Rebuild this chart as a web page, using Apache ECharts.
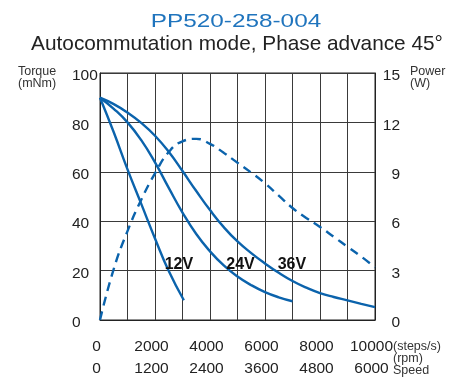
<!DOCTYPE html>
<html>
<head>
<meta charset="utf-8">
<script src="https://cdn.jsdelivr.net/npm/echarts@6/dist/echarts.min.js"></script>
<style>
  html, body { margin: 0; padding: 0; background: #fff; }
  #box { width: 467px; height: 380px; }
</style>
</head>
<body>
<div id="box"></div>
<script>
// 数据 (speed in steps/s, torque mNm, power W)
var speed12 = [0, 500, 1000, 1500, 2000, 2500, 3050];
var torque12 = [90, 76, 61, 47, 33, 19.8, 8];

var speed24 = [0, 500, 1000, 1500, 2000, 2500, 3000, 3500, 4000, 4500, 5000, 5500, 6000, 6500, 7000];
var torque24 = [90, 85.5, 80, 72.8, 63.8, 53.5, 43.5, 34.8, 27.8, 22.1, 17.6, 14.1, 11.3, 9.2, 7.6];

var speed36 = [0, 500, 1000, 1500, 2000, 2500, 3000, 3500, 4000, 4500, 5000, 5500, 6000, 6500, 7000, 7500, 8000, 8500, 9000, 9500, 10000];
var torque36 = [90, 87.4, 84, 79.8, 74.6, 68.1, 60.3, 52.2, 44.5, 37.6, 31.8, 27.1, 22.9, 19.1, 15.8, 13.1, 10.9, 9.3, 7.95, 6.55, 5.2];

var speedP = [0, 500, 1000, 1500, 2000, 2500, 3000, 3500, 4000, 4500, 5000, 5500, 6000, 6500, 7000, 7500, 8000, 8500, 9000, 9500, 10000];
var powerP = [0, 3.1, 5.4, 7.3, 8.9, 10.2, 10.85, 11.0, 10.7, 10.15, 9.55, 8.95, 8.3, 7.55, 6.8, 6.2, 5.65, 5.05, 4.45, 3.85, 3.2];

// 刻度标签
var stepTicks = ['0', '2000', '4000', '6000', '8000', '10000'];
var rpmTicks = ['0', '1200', '2400', '3600', '4800', '6000'];

// 曲线标签位置
var labelNames = ['12V', '24V', '36V'];
var labelPos = [[2870, 22.3], [5110, 22.3], [6980, 22.3]];

function pairs(xs, ys) {
	var out = [];
	for (var i = 0; i < xs.length; i++) {
		out.push([xs[i], ys[i]]);
	}
	return out;
}

var blue = '#0b63ac';
var sans = '"Liberation Sans", Arial, sans-serif';
var myChart = echarts.init(document.getElementById('box'));

function curve(name, xs, ys, idx) {
	return {
		name: name,
		type: 'line',
		smooth: 0.5,
		showSymbol: false,
		silent: true,
		data: pairs(xs, ys),
		lineStyle: { color: blue, width: 2.4 },
		markPoint: {
			symbol: 'circle',
			symbolSize: 0,
			data: [{
				coord: labelPos[idx],
				label: {
					show: true,
					formatter: labelNames[idx],
					color: '#111',
					fontSize: 16,
					fontWeight: 'bold',
					fontFamily: sans
				}
			}]
		}
	};
}

var option = {
	animation: false,
	grid: {
		left: 100, right: 92, top: 73, bottom: 56,
		show: true, borderColor: '#222', borderWidth: 1
	},
	graphic: [
		{
			type: 'text', x: 236, y: 22, scaleX: 1.28,
			style: {
				text: 'PP520-258-004', fill: '#1f74bd',
				font: '19px ' + sans,
				textAlign: 'center', textVerticalAlign: 'middle'
			}
		},
		{
			type: 'text', x: 237, y: 44,
			style: {
				text: 'Autocommutation mode, Phase advance 45°', fill: '#222',
				font: '20.8px ' + sans,
				textAlign: 'center', textVerticalAlign: 'middle'
			}
		},
		{
			type: 'text', x: 18, y: 65,
			style: {
				text: 'Torque\n(mNm)', fill: '#333', lineHeight: 12.5,
				font: '12.5px ' + sans
			}
		},
		{
			type: 'text', x: 410, y: 65,
			style: {
				text: 'Power\n(W)', fill: '#333', lineHeight: 12.5,
				font: '12.5px ' + sans
			}
		},
		{
			type: 'text', x: 393, y: 341,
			style: {
				text: '(steps/s)\n(rpm)\nSpeed', fill: '#333', lineHeight: 12,
				font: '12.5px ' + sans
			}
		}
	],
	xAxis: {
		type: 'value',
		min: 0, max: 10000, interval: 1000,
		axisLine: { show: true, lineStyle: { color: '#222', width: 1 } },
		axisTick: { show: false },
		splitLine: { show: true, lineStyle: { color: '#3a3a3a', width: 1 } },
		axisLabel: {
			margin: 16,
			color: '#222',
			fontSize: 15.5,
			fontFamily: sans,
			lineHeight: 22,
			padding: [0, 7, 0, 0],
			formatter: function (v) {
				var i = Math.round(v / 2000);
				if (v % 2000 !== 0) return '';
				return stepTicks[i] + '\n' + rpmTicks[i];
			}
		}
	},
	yAxis: [
		{
			type: 'value',
			min: 0, max: 100, interval: 20,
			axisLine: { show: true, lineStyle: { color: '#222', width: 1 } },
			axisTick: { show: false },
			splitLine: { show: true, lineStyle: { color: '#3a3a3a', width: 1 } },
			axisLabel: { align: 'left', verticalAlign: 'top', lineHeight: 6, margin: 28, color: '#222', fontSize: 15.5, fontFamily: sans }
		},
		{
			type: 'value',
			min: 0, max: 15, interval: 3,
			position: 'right',
			axisLine: { show: true, lineStyle: { color: '#222', width: 1 } },
			axisTick: { show: false },
			splitLine: { show: false },
			axisLabel: { align: 'right', verticalAlign: 'top', lineHeight: 6, margin: 25, color: '#222', fontSize: 15.5, fontFamily: sans }
		}
	],
	series: [
		curve('12V', speed12, torque12, 0),
		curve('24V', speed24, torque24, 1),
		curve('36V', speed36, torque36, 2),
		{
			name: 'Power',
			type: 'line',
			yAxisIndex: 1,
			smooth: 0.5,
			showSymbol: false,
			silent: true,
			data: pairs(speedP, powerP),
			lineStyle: { color: blue, width: 2.4, type: [9, 6] }
		}
	]
};

myChart.setOption(option);
</script>
</body>
</html>
